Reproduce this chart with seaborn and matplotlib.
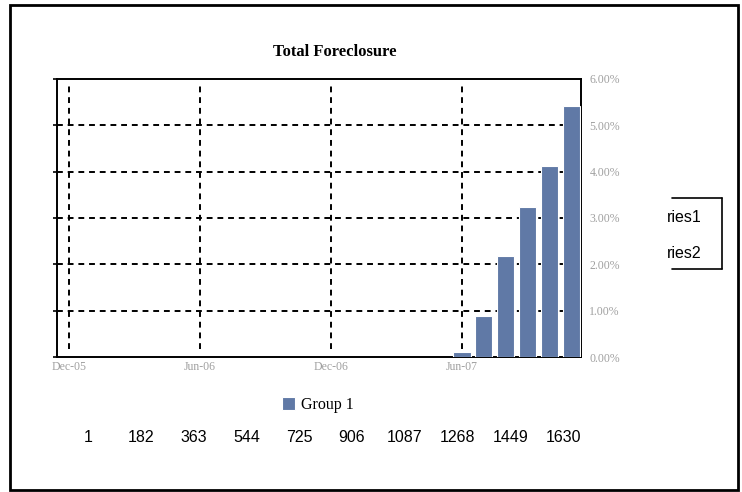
import pandas as pd
import seaborn as sns
import matplotlib.pyplot as plt
from matplotlib.ticker import PercentFormatter, MultipleLocator
from matplotlib.patches import Rectangle
from matplotlib.lines import Line2D

# data
all_months = ['Dec-05', 'Jan-06', 'Feb-06', 'Mar-06', 'Apr-06', 'May-06', 'Jun-06',
              'Jul-06', 'Aug-06', 'Sep-06', 'Oct-06', 'Nov-06', 'Dec-06',
              'Jan-07', 'Feb-07', 'Mar-07', 'Apr-07', 'May-07', 'Jun-07',
              'Jul-07', 'Aug-07', 'Sep-07', 'Oct-07', 'Nov-07']
months = ['Jun-07', 'Jul-07', 'Aug-07', 'Sep-07', 'Oct-07', 'Nov-07']
rates = [0.0011, 0.0089, 0.0219, 0.0323, 0.0413, 0.0542]
shown_ticks = ['Dec-05', 'Jun-06', 'Dec-06', 'Jun-07']
day_labels = ['1', '182', '363', '544', '725', '906', '1087', '1268', '1449', '1630']
series_labels = ['ries1', 'ries2']

sns.set_style('white')
plt.rcParams['font.family'] = ['Liberation Serif', 'DejaVu Serif']
plt.rcParams['text.color'] = 'black'

fig = plt.figure(figsize=(7.42, 4.92), dpi=100)
ax = fig.add_axes([57 / 742, 1 - 357 / 492, 524 / 742, 278 / 492])

df = pd.DataFrame({'month': months, 'rate': rates})
sns.barplot(data=df, x='month', y='rate', order=all_months, color='#6079a6',
            saturation=1, width=0.78, edgecolor='white', linewidth=0.8,
            label='Group 1', ax=ax, zorder=3)

ax.set_xlim(-0.55, 23.45)
ax.set_ylim(0, 0.06)
ax.set_xlabel('')
ax.set_ylabel('')

# ticks: only every 6th month
pos = [all_months.index(m) for m in shown_ticks]
ax.set_xticks(pos)
ax.set_xticklabels(shown_ticks)
ax.yaxis.set_major_locator(MultipleLocator(0.01))
ax.yaxis.set_major_formatter(PercentFormatter(xmax=1, decimals=2))
ax.tick_params(axis='x', length=0, labelsize=8.5, labelcolor='#a0a0a0', pad=3)
ax.tick_params(axis='y', left=True, right=False, labelleft=False, labelright=True,
               length=3, width=1.2, color='black', direction='out',
               labelsize=8.5, labelcolor='#a0a0a0', pad=3)

# dashed grid
for p in pos:
    ax.axvline(p, ymin=0.03, ymax=0.98, color='black', ls=(0, (3, 2.5)), lw=1.4, zorder=1)
for v in [0.01, 0.02, 0.03, 0.04, 0.05]:
    ax.axhline(v, color='black', ls=(0, (3, 2.5)), lw=1.4, zorder=1)

for s in ax.spines.values():
    s.set_visible(True)
    s.set_color('black')
    s.set_linewidth(1.4)

if ax.get_legend() is not None:
    ax.get_legend().remove()
h, l = ax.get_legend_handles_labels()
fig.legend(h, l, loc='center', bbox_to_anchor=(318 / 742, 1 - 405 / 492), frameon=False,
           fontsize=11.5, handlelength=0.8, handleheight=0.8, handletextpad=0.4)

fig.text(335 / 742, 1 - 52 / 492, 'Total Foreclosure', ha='center', va='center',
         fontsize=12, fontweight='bold')

# leftover row of numbers
for i, t in enumerate(day_labels):
    fig.text((88 + i * 52.8) / 742, 1 - 438 / 492, t, ha='center', va='center',
             fontsize=11.5, family='Liberation Sans')

# clipped series legend on the right
for i, t in enumerate(series_labels):
    fig.text(667 / 742, 1 - (218 + i * 35) / 492, t, ha='left', va='center',
             fontsize=11.5, family='Liberation Sans')
box = [((672, 198), (722, 198)), ((722, 198), (722, 269)), ((672, 269), (722, 269))]
for (x0, y0), (x1, y1) in box:
    fig.add_artist(Line2D([x0 / 742, x1 / 742], [1 - y0 / 492, 1 - y1 / 492],
                          transform=fig.transFigure, color='black', lw=1.2))

# outer frame
fig.add_artist(Rectangle((10 / 742, 1 - 490 / 492), 728 / 742, 485 / 492,
                         transform=fig.transFigure, fill=False, edgecolor='black', lw=2))

fig.savefig('out.png', dpi=100)
